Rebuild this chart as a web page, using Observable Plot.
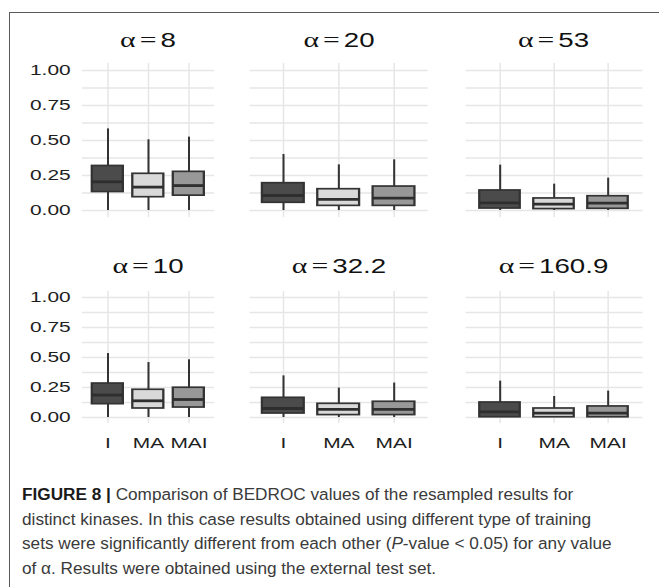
<!DOCTYPE html>
<html>
<head>
<meta charset="utf-8">
<script src="https://cdn.jsdelivr.net/npm/d3@7"></script>
<script src="https://cdn.jsdelivr.net/npm/@observablehq/plot@0.6"></script>
<style>
  html, body { margin: 0; padding: 0; background: #fff; overflow: hidden; width: 659px; height: 587px; }
  #frame { position: absolute; left: 9px; top: 12px; width: 800px; height: 800px;
           border-left: 1.5px solid #5a5a5a; border-top: 1.5px solid #5a5a5a; }
  #chart { position: absolute; left: 0; top: 0; width: 500px; height: 470px; transform-origin: 0 0; }
  .ptitle { position: absolute; font-family: "Liberation Sans", Arial, sans-serif; font-size: 20.5px;
            color: #111; white-space: nowrap; transform: translate(-50%, -50%); }
  .ptitle .sym { font-family: "Liberation Serif", "Times New Roman", serif; font-size: 22px; }
  .ptitle .eq { font-family: "Liberation Serif", "Times New Roman", serif; font-size: 22px; margin: 0 3px 0 3px; }
  .plot { position: absolute; }
  .cap { position: absolute; left: 22px; font-family: "Liberation Sans", Arial, sans-serif; font-size: 17.2px;
         line-height: 24.5px; color: #3a3a3a; white-space: nowrap; }
  .cap b { color: #1a1a1a; }
</style>
</head>
<body>
<div id="frame"></div>
<div id="chart"></div>
<div id="caption"></div>
<script>
// ---- data ----
const alphas = ["8", "20", "53", "10", "32.2", "160.9"];
const types = ["I", "MA", "MAI"];
const typeColors = ["#4b4b4b", "#d9d9d9", "#989898"];
const yTicks = [0, 0.25, 0.5, 0.75, 1];
const yGrid = [0, 0.125, 0.25, 0.375, 0.5, 0.625, 0.75, 0.875, 1];
const lowerWhisker = [[0, 0, 0], [0, 0, 0], [0, 0, 0], [0, 0, 0], [0, 0, 0], [0, 0, 0]];
const q1 = [[0.132, 0.095, 0.106], [0.055, 0.033, 0.033], [0.014, 0.010, 0.012],
            [0.111, 0.075, 0.083], [0.033, 0.020, 0.020], [0.002, 0.002, 0.002]];
const median = [[0.205, 0.167, 0.178], [0.107, 0.079, 0.088], [0.055, 0.045, 0.052],
                [0.187, 0.139, 0.150], [0.075, 0.067, 0.067], [0.047, 0.036, 0.036]];
const q3 = [[0.318, 0.262, 0.276], [0.195, 0.152, 0.171], [0.143, 0.086, 0.102],
            [0.283, 0.231, 0.248], [0.164, 0.114, 0.131], [0.125, 0.075, 0.092]];
const upperWhisker = [[0.583, 0.505, 0.524], [0.400, 0.326, 0.362], [0.324, 0.188, 0.231],
                      [0.533, 0.458, 0.481], [0.347, 0.245, 0.287], [0.303, 0.175, 0.220]];

// ---- layout (page pixels; the chart block is stretched horizontally by k) ----
const k = 1.35;
const cols = [
  {left: 0,   right: 220, panelL: 82,  panelR: 214, center: 148},
  {left: 238, right: 440, panelL: 250, panelR: 428, center: 339},
  {left: 453, right: 655, panelL: 465, panelR: 642, center: 553.5}
];
const rows = [
  {top: 55,  height: 170, mt: 8, mb: 8,  titleY: 40,  xAxis: false},
  {top: 283, height: 175, mt: 8, mb: 35, titleY: 266, xAxis: true}
];

const chartDiv = document.getElementById("chart");
chartDiv.style.transform = `scaleX(${k})`;

alphas.forEach((a, p) => {
  const r = rows[Math.floor(p / 3)], c = cols[p % 3];
  const data = types.map((t, i) => ({
    type: t, low: lowerWhisker[p][i], q1: q1[p][i], med: median[p][i], q3: q3[p][i], high: upperWhisker[p][i]
  }));
  const chart = Plot.plot({
    width: (c.right - c.left) / k, height: r.height,
    marginLeft: (c.panelL - c.left) / k, marginRight: (c.right - c.panelR) / k,
    marginTop: r.mt, marginBottom: r.mb,
    style: {fontFamily: "'Liberation Sans', Arial, sans-serif", fontSize: "15.5px", color: "#1e1e1e", background: "transparent", overflow: "visible"},
    x: {type: "band", domain: types, paddingInner: 0.25, paddingOuter: 0.225,
        axis: r.xAxis ? "bottom" : null, tickSize: 0, tickPadding: 14, label: null},
    y: {domain: [-0.05, 1.05], axis: p % 3 === 0 ? "left" : null, ticks: yTicks,
        tickFormat: d3.format(".2f"), tickSize: 0, tickPadding: 12 / k, label: null},
    color: {domain: types, range: typeColors},
    marks: [
      Plot.ruleY(yGrid, {stroke: "#e6e6e6", strokeWidth: 1.4}),
      Plot.ruleX(types, {x: d => d, stroke: "#e6e6e6", strokeWidth: 1.1}),
      Plot.ruleX(data, {x: "type", y1: "low", y2: "high", stroke: "#333", strokeWidth: 1.5}),
      Plot.barY(data, {x: "type", y1: "q1", y2: "q3", fill: "type", stroke: "#333", strokeWidth: 1.7}),
      Plot.tickY(data, {x: "type", y: "med", stroke: "#2e2e2e", strokeWidth: 2.8})
    ]
  });
  chart.classList.add("plot");
  chart.style.left = (c.left / k) + "px";
  chart.style.top = r.top + "px";
  chartDiv.appendChild(chart);

  const t = document.createElement("div");
  t.className = "ptitle";
  t.style.left = (c.center / k) + "px";
  t.style.top = r.titleY + "px";
  t.innerHTML = '<span class="sym">α</span><span class="eq">=</span>' + a;
  chartDiv.appendChild(t);
});

// ---- caption ----
const captionLines = [
  '<b>FIGURE 8 |</b> Comparison of BEDROC values of the resampled results for',
  'distinct kinases. In this case results obtained using different type of training',
  'sets were significantly different from each other (<i>P</i>-value &lt; 0.05) for any value',
  'of α. Results were obtained using the external test set.'
];
const capDiv = document.getElementById("caption");
captionLines.forEach((l, i) => {
  const d = document.createElement("div");
  d.className = "cap";
  d.style.top = (482 + i * 24.5) + "px";
  d.innerHTML = l;
  capDiv.appendChild(d);
});
</script>
</body>
</html>
